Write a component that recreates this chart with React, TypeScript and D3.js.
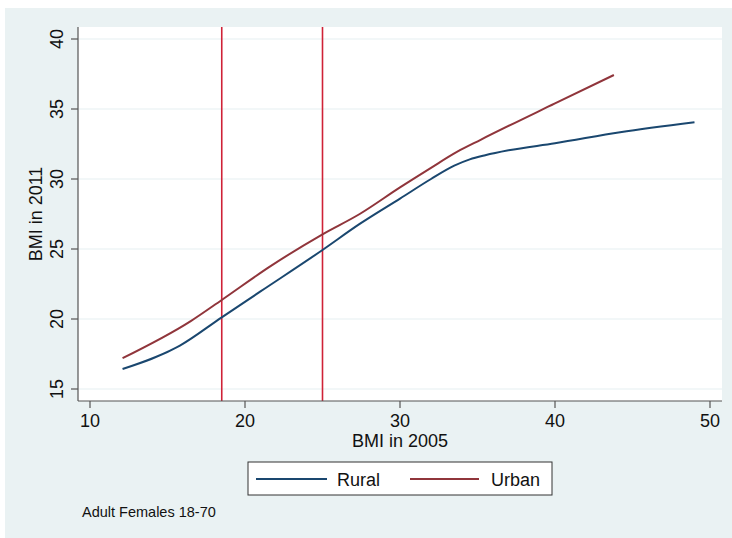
import React, { useRef, useEffect } from 'react';
import * as d3 from 'd3';

// values
const ruralX = [12.1, 15.8, 18.5, 21, 25, 27.4, 30, 32, 33.5, 34.5, 35.5, 37, 40, 44.2, 49];
const ruralY = [16.43, 18.1, 20.12, 21.97, 24.93, 26.79, 28.6, 30.0, 30.95, 31.4, 31.7, 32.05, 32.55, 33.34, 34.05];
const urbanX = [12.1, 16.5, 18.5, 21.6, 25, 27.4, 30, 32, 33.7, 35.2, 40, 43.8];
const urbanY = [17.2, 19.85, 21.36, 23.74, 26.05, 27.5, 29.4, 30.8, 31.95, 32.8, 35.4, 37.43];
const cutoffs = [18.5, 25];
const xTicks = [10, 20, 30, 40, 50];
const yTicks = [15, 20, 25, 30, 35, 40];
const seriesNames = ['Rural', 'Urban'];
const seriesColors = ['#1a476f', '#90353b'];
const note = 'Adult Females 18-70';

const W = 732;
const H = 538;
const font = '"Liberation Sans", Arial, Helvetica, sans-serif';

export default function App() {
  const svgRef = useRef<SVGSVGElement>(null);

  useEffect(() => {
    if (!svgRef.current) return;
    const svg = d3.select(svgRef.current);
    svg.selectAll('*').remove();

    const plot = { left: 78, right: 722, top: 27, bottom: 401 };
    const x = d3.scaleLinear().domain([10, 50]).range([90, 710]);
    const y = d3.scaleLinear().domain([15, 40]).range([389, 39]);

    // outer panel
    svg.append('rect').attr('x', 5).attr('y', 8).attr('width', W - 5).attr('height', H - 8).attr('fill', '#eaf2f3');
    svg
      .append('rect')
      .attr('x', plot.left)
      .attr('y', plot.top)
      .attr('width', plot.right - plot.left)
      .attr('height', plot.bottom - plot.top)
      .attr('fill', '#ffffff');

    // grid
    svg
      .append('g')
      .selectAll('line')
      .data(yTicks)
      .join('line')
      .attr('x1', plot.left)
      .attr('x2', plot.right)
      .attr('y1', (d) => y(d))
      .attr('y2', (d) => y(d))
      .attr('stroke', '#e6eff2')
      .attr('stroke-width', 1.2);

    // cutoff lines
    svg
      .append('g')
      .selectAll('line')
      .data(cutoffs)
      .join('line')
      .attr('x1', (d) => x(d))
      .attr('x2', (d) => x(d))
      .attr('y1', plot.top)
      .attr('y2', plot.bottom)
      .attr('stroke', '#cf2237')
      .attr('stroke-width', 1.6);

    const line = d3
      .line<[number, number]>()
      .x((d) => x(d[0]))
      .y((d) => y(d[1]))
      .curve(d3.curveMonotoneX);

    const rural = ruralX.map((v, i) => [v, ruralY[i]] as [number, number]);
    const urban = urbanX.map((v, i) => [v, urbanY[i]] as [number, number]);
    [rural, urban].forEach((pts, i) => {
      svg
        .append('path')
        .attr('d', line(pts))
        .attr('fill', 'none')
        .attr('stroke', seriesColors[i])
        .attr('stroke-width', 2);
    });

    // axes
    const axisColor = '#555555';
    svg.append('line').attr('x1', plot.left).attr('x2', plot.left).attr('y1', plot.top).attr('y2', plot.bottom).attr('stroke', axisColor).attr('stroke-width', 1.2);
    svg.append('line').attr('x1', plot.left).attr('x2', plot.right).attr('y1', plot.bottom).attr('y2', plot.bottom).attr('stroke', axisColor).attr('stroke-width', 1.2);

    xTicks.forEach((t) => {
      svg.append('line').attr('x1', x(t)).attr('x2', x(t)).attr('y1', plot.bottom).attr('y2', plot.bottom + 7).attr('stroke', axisColor).attr('stroke-width', 1.2);
      svg
        .append('text')
        .attr('x', x(t))
        .attr('y', 427)
        .attr('text-anchor', 'middle')
        .attr('font-family', font)
        .attr('font-size', 18)
        .attr('fill', '#111')
        .text(t);
    });

    yTicks.forEach((t) => {
      svg.append('line').attr('x1', plot.left - 7).attr('x2', plot.left).attr('y1', y(t)).attr('y2', y(t)).attr('stroke', axisColor).attr('stroke-width', 1.2);
      svg
        .append('text')
        .attr('transform', `translate(63,${y(t)}) rotate(-90)`)
        .attr('text-anchor', 'middle')
        .attr('font-family', font)
        .attr('font-size', 18)
        .attr('fill', '#111')
        .text(t);
    });

    svg
      .append('text')
      .attr('x', (plot.left + plot.right) / 2)
      .attr('y', 447)
      .attr('text-anchor', 'middle')
      .attr('font-family', font)
      .attr('font-size', 18)
      .attr('fill', '#111')
      .text('BMI in 2005');

    svg
      .append('text')
      .attr('transform', `translate(42,${(plot.top + plot.bottom) / 2}) rotate(-90)`)
      .attr('text-anchor', 'middle')
      .attr('font-family', font)
      .attr('font-size', 18)
      .attr('fill', '#111')
      .text('BMI in 2011');

    // legend
    const lg = svg.append('g');
    lg.append('rect').attr('x', 248).attr('y', 462).attr('width', 304).attr('height', 33).attr('fill', '#ffffff').attr('stroke', '#333').attr('stroke-width', 1);
    const legendPos = [
      { x1: 256, x2: 327, tx: 337 },
      { x1: 410, x2: 479, tx: 491 }
    ];
    seriesNames.forEach((name, i) => {
      const p = legendPos[i];
      lg.append('line').attr('x1', p.x1).attr('x2', p.x2).attr('y1', 479).attr('y2', 479).attr('stroke', seriesColors[i]).attr('stroke-width', 2);
      lg.append('text').attr('x', p.tx).attr('y', 486).attr('font-family', font).attr('font-size', 18).attr('fill', '#111').text(name);
    });

    svg
      .append('text')
      .attr('x', 82)
      .attr('y', 517)
      .attr('font-family', font)
      .attr('font-size', 14.5)
      .attr('fill', '#111')
      .text(note);
  }, []);

  return (
    <div style={{ position: 'absolute', left: 0, top: 0 }}>
      <svg width={W} height={H} ref={svgRef} style={{ display: 'block' }} />
    </div>
  );
}
